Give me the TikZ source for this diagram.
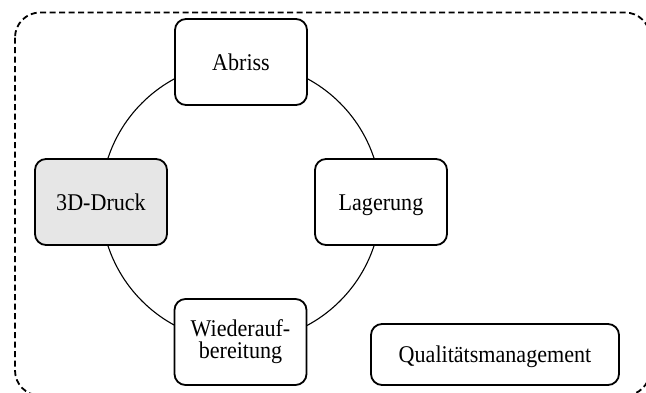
\documentclass[tikz,border=0pt]{standalone}
\usepackage{fontspec}
\setmainfont{Liberation Serif}[FakeStretch=0.92]
\definecolor{boxgray}{HTML}{E6E6E6}
\begin{document}
\begin{tikzpicture}[x=1pt,y=-1pt,
  stepbox/.style={draw=black, line width=1.8pt, rounded corners=11pt, fill=white,
    minimum width=132pt, minimum height=86pt, inner sep=2pt, align=center,
    font=\fontsize{24}{22}\selectfont},
  oneline/.style={text height=16pt, text depth=0pt},
  frame/.style={draw=black, line width=1.8pt, dash pattern=on 6pt off 3.5pt, rounded corners=25pt}]
\useasboundingbox (0,0) rectangle (646,392);
\clip (0,0) rectangle (646,392);
\draw[frame] (15,12.5) rectangle (650,395.5);
\coordinate (c) at (241,202);
\draw[line width=1.1pt] (c) circle[radius=140pt];
\node[stepbox, oneline] (abriss) at (241,62) {Abriss};
\node[stepbox, oneline, fill=boxgray] (druck) at (101,202) {3D-Druck};
\node[stepbox, oneline] (lager) at (381,202) {Lagerung};
\node[stepbox] (wieder) at (240.5,342) {Wiederauf-\\bereitung};
\node[stepbox, oneline, minimum width=248pt, minimum height=61pt] (qm) at (495,354.5) {Qualitätsmanagement};
\end{tikzpicture}
\end{document}
